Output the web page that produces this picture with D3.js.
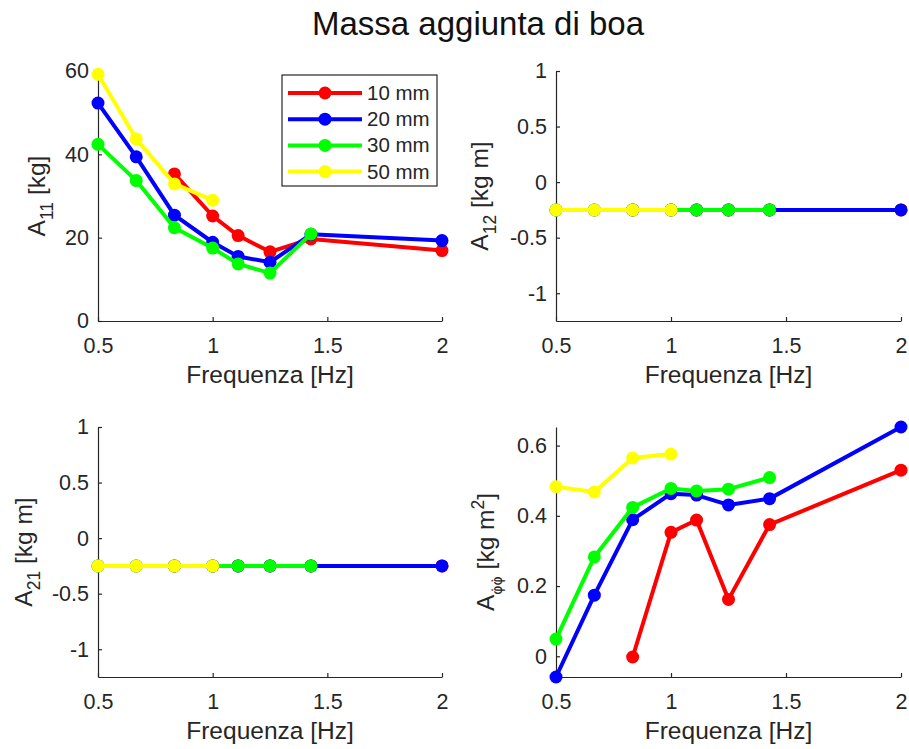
<!DOCTYPE html>
<html>
<head>
<meta charset="utf-8">
<script src="https://cdn.jsdelivr.net/npm/d3@7"></script>
<style>
  body { margin: 0; background: #fff; }
  text { font-family: "Liberation Sans", Arial, Helvetica, sans-serif; }
</style>
</head>
<body>
<svg id="fig" width="909" height="749"></svg>
<script>
// Wave frequencies tested (Hz)
const frequencies = [0.5, 0.6667, 0.8333, 1.0, 1.1111, 1.25, 1.4286, 2.0];

// Wave heights, one series each
const seriesNames = ["10 mm", "20 mm", "30 mm", "50 mm"];
const seriesColors = ["#ff0000", "#0000ff", "#00ff00", "#ffff00"];

// Added mass A11 [kg]
const a11_10mm = [null, null, 35.3, 25.2, 20.5, 16.6, 19.7, 16.9];
const a11_20mm = [52.3, 39.4, 25.4, 18.9, 15.5, 14.1, 20.8, 19.3];
const a11_30mm = [42.4, 33.7, 22.4, 17.5, 13.7, 11.5, 20.9, null];
const a11_50mm = [59.2, 43.7, 32.9, 29.0, null, null, null, null];

// Coupling term A12 [kg m]
const a12_10mm = [null, null, -0.25, -0.25, -0.25, -0.25, -0.25, -0.25];
const a12_20mm = [-0.25, -0.25, -0.25, -0.25, -0.25, -0.25, -0.25, -0.25];
const a12_30mm = [-0.25, -0.25, -0.25, -0.25, -0.25, -0.25, -0.25, null];
const a12_50mm = [-0.25, -0.25, -0.25, -0.25, null, null, null, null];

// Coupling term A21 [kg m]
const a21_10mm = [null, null, -0.25, -0.25, -0.25, -0.25, -0.25, -0.25];
const a21_20mm = [-0.25, -0.25, -0.25, -0.25, -0.25, -0.25, -0.25, -0.25];
const a21_30mm = [-0.25, -0.25, -0.25, -0.25, -0.25, -0.25, -0.25, null];
const a21_50mm = [-0.25, -0.25, -0.25, -0.25, null, null, null, null];

// Rotational added inertia A_phiphi [kg m^2]
const aphi_10mm = [null, null, -0.002, 0.353, 0.388, 0.162, 0.375, 0.530];
const aphi_20mm = [-0.059, 0.174, 0.389, 0.463, 0.459, 0.431, 0.449, 0.653];
const aphi_30mm = [0.049, 0.283, 0.424, 0.478, 0.471, 0.476, 0.509, null];
const aphi_50mm = [0.483, 0.468, 0.565, 0.576, null, null, null, null];

// Axis ticks
const xTickValues = [0.5, 1, 1.5, 2];
const a11Ticks = [0, 20, 40, 60];
const a12Ticks = [-1, -0.5, 0, 0.5, 1];
const aphiTicks = [0, 0.2, 0.4, 0.6];

const svg = d3.select("#fig");
const textColor = "#262626";
const fmt = v => String(v); // plain hyphen for negatives

svg.append("text")
  .attr("x", 478).attr("y", 35)
  .attr("text-anchor", "middle")
  .attr("font-size", 33)
  .attr("fill", "#111")
  .text("Massa aggiunta di boa");

const panels = [
  { series: [a11_10mm, a11_20mm, a11_30mm, a11_50mm], yDomain: [0, 60], yTicks: a11Ticks,
    x0: 98, x1: 442, y0: 71, y1: 321, labelX: 45,
    label: [["A", 0], ["11", 1], [" [kg]", 0]], legend: true },
  { series: [a12_10mm, a12_20mm, a12_30mm, a12_50mm], yDomain: [-1.25, 1], yTicks: a12Ticks,
    x0: 556, x1: 901, y0: 71, y1: 321, labelX: 488,
    label: [["A", 0], ["12", 1], [" [kg m]", 0]] },
  { series: [a21_10mm, a21_20mm, a21_30mm, a21_50mm], yDomain: [-1.25, 1], yTicks: a12Ticks,
    x0: 98, x1: 442, y0: 427, y1: 677, labelX: 32,
    label: [["A", 0], ["21", 1], [" [kg m]", 0]] },
  { series: [aphi_10mm, aphi_20mm, aphi_30mm, aphi_50mm], yDomain: null, yTicks: aphiTicks,
    x0: 556, x1: 901, y0: 427, y1: 677, labelX: 494,
    label: [["A", 0], ["\u03C6\u0307\u03C6\u0307", 1], [" [kg m", 0], ["2", 2], ["]", 0]] }
];

panels.forEach(p => {
  const all = p.series.flat().filter(v => v !== null);
  const yDomain = p.yDomain || d3.extent(all);
  const x = d3.scaleLinear().domain([0.5, 2]).range([p.x0, p.x1]);
  const y = d3.scaleLinear().domain(yDomain).range([p.y1, p.y0]);
  const g = svg.append("g");

  // axes (box off, inward ticks)
  const xa = g.append("g").attr("transform", `translate(0,${p.y1})`)
    .call(d3.axisBottom(x).tickValues(xTickValues).tickFormat(fmt)
      .tickSizeInner(-4).tickSizeOuter(0).tickPadding(17));
  const ya = g.append("g").attr("transform", `translate(${p.x0},0)`)
    .call(d3.axisLeft(y).tickValues(p.yTicks).tickFormat(fmt)
      .tickSizeInner(-4).tickSizeOuter(0).tickPadding(9));
  [xa, ya].forEach(a => {
    a.select(".domain").attr("stroke", textColor).attr("stroke-width", 1.2);
    a.selectAll(".tick line").attr("stroke", textColor).attr("stroke-width", 1.2);
    a.selectAll(".tick text").attr("font-size", 21.5).attr("fill", textColor)
      .attr("font-family", '"Liberation Sans", Arial, sans-serif');
  });

  // x label
  g.append("text")
    .attr("x", (p.x0 + p.x1) / 2).attr("y", p.y1 + 62)
    .attr("text-anchor", "middle").attr("font-size", 24.5).attr("fill", textColor)
    .text("Frequenza [Hz]");

  // y label with sub/superscripts
  const yl = g.append("text")
    .attr("transform", `translate(${p.labelX},${(p.y0 + p.y1) / 2}) rotate(-90)`)
    .attr("text-anchor", "middle").attr("font-size", 24.5).attr("fill", textColor);
  let shift = 0;
  p.label.forEach(([t, kind]) => {
    const target = kind === 1 ? 8 : kind === 2 ? -10 : 0;
    const ts = yl.append("tspan").text(t).attr("dy", target - shift);
    if (kind) ts.attr("font-size", 17.5);
    if (t.indexOf("\u03C6") >= 0) ts.attr("font-family", '"DejaVu Sans", sans-serif').attr("font-size", 14);
    shift = target;
  });

  // series: line then markers, drawn in legend order
  const line = d3.line()
    .defined(d => d.v !== null)
    .x(d => x(d.f)).y(d => y(d.v));
  p.series.forEach((vals, i) => {
    const pts = frequencies.map((f, k) => ({ f, v: vals[k] }));
    g.append("path").datum(pts)
      .attr("d", line).attr("fill", "none")
      .attr("stroke", seriesColors[i]).attr("stroke-width", 4)
      .attr("stroke-linejoin", "round");
    g.selectAll(null).data(pts.filter(d => d.v !== null)).enter()
      .append("circle")
      .attr("cx", d => x(d.f)).attr("cy", d => y(d.v)).attr("r", 6.5)
      .attr("fill", seriesColors[i]);
  });

  if (p.legend) {
    const lg = svg.append("g");
    lg.append("rect").attr("x", 282).attr("y", 75).attr("width", 155).attr("height", 111)
      .attr("fill", "#fff").attr("stroke", textColor).attr("stroke-width", 1.2);
    seriesNames.forEach((name, i) => {
      const cy = 93 + i * 26.2;
      lg.append("line").attr("x1", 288).attr("x2", 362).attr("y1", cy).attr("y2", cy)
        .attr("stroke", seriesColors[i]).attr("stroke-width", 4);
      lg.append("circle").attr("cx", 325).attr("cy", cy).attr("r", 6.5).attr("fill", seriesColors[i]);
      lg.append("text").attr("x", 367).attr("y", cy + 7).attr("font-size", 20.5)
        .attr("fill", textColor).text(name);
    });
  }
});
</script>
</body>
</html>
